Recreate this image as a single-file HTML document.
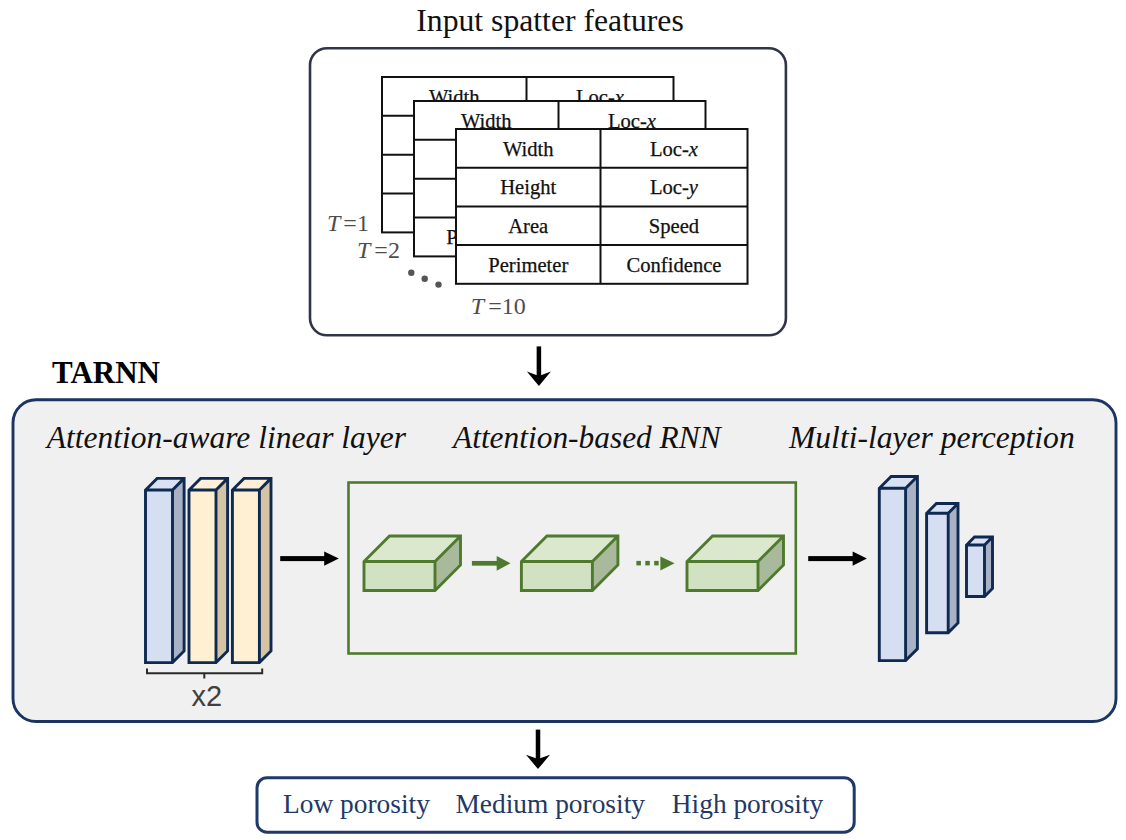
<!DOCTYPE html>
<html><head><meta charset="utf-8"><style>
html,body{margin:0;padding:0;background:#fff;}
body{width:1126px;height:840px;overflow:hidden;}
svg{display:block;}
text{font-family:"Liberation Serif",serif;}
.title{font-size:31.7px;fill:#111;}
.cell{font-size:20.6px;fill:#111;stroke:#111;stroke-width:0.25px;}
.tl{font-size:24px;fill:#4d4d4d;}
.bold{font-size:31px;font-weight:bold;fill:#000;}
.it{font-size:31.4px;font-style:italic;fill:#111;}
.x2{font-family:"Liberation Sans",sans-serif;font-size:29px;fill:#404040;}
.bt{font-size:27.4px;fill:#223865;}
</style></head><body>
<svg width="1126" height="840" viewBox="0 0 1126 840">
<rect x='310' y='48.2' width='475.9' height='287.1' rx='17' fill='#fff' stroke='#303548' stroke-width='2.6'/><text x='550' y='31.2' text-anchor='middle' class='title'>Input spatter features</text><rect x='382' y='77' width='291.5' height='155.4' fill='#fff' stroke='#111' stroke-width='2'/><line x1='382' y1='115.85' x2='673.5' y2='115.85' stroke='#111' stroke-width='2'/><line x1='382' y1='154.70' x2='673.5' y2='154.70' stroke='#111' stroke-width='2'/><line x1='382' y1='193.55' x2='673.5' y2='193.55' stroke='#111' stroke-width='2'/><line x1='526.5' y1='77' x2='526.5' y2='232.4' stroke='#111' stroke-width='2'/><text x='454.25' y='103.50' text-anchor='middle' class='cell'>Width</text><text x='600.00' y='103.50' text-anchor='middle' class='cell'>Loc-<tspan font-style='italic'>x</tspan></text><text x='454.25' y='142.35' text-anchor='middle' class='cell'>Height</text><text x='600.00' y='142.35' text-anchor='middle' class='cell'>Loc-<tspan font-style='italic'>y</tspan></text><text x='454.25' y='181.20' text-anchor='middle' class='cell'>Area</text><text x='600.00' y='181.20' text-anchor='middle' class='cell'>Speed</text><text x='454.25' y='220.05' text-anchor='middle' class='cell'>Perimeter</text><text x='600.00' y='220.05' text-anchor='middle' class='cell'>Confidence</text><rect x='414' y='101' width='291.5' height='155.4' fill='#fff' stroke='#111' stroke-width='2'/><line x1='414' y1='139.85' x2='705.5' y2='139.85' stroke='#111' stroke-width='2'/><line x1='414' y1='178.70' x2='705.5' y2='178.70' stroke='#111' stroke-width='2'/><line x1='414' y1='217.55' x2='705.5' y2='217.55' stroke='#111' stroke-width='2'/><line x1='558.5' y1='101' x2='558.5' y2='256.4' stroke='#111' stroke-width='2'/><text x='486.25' y='127.50' text-anchor='middle' class='cell'>Width</text><text x='632.00' y='127.50' text-anchor='middle' class='cell'>Loc-<tspan font-style='italic'>x</tspan></text><text x='486.25' y='166.35' text-anchor='middle' class='cell'>Height</text><text x='632.00' y='166.35' text-anchor='middle' class='cell'>Loc-<tspan font-style='italic'>y</tspan></text><text x='486.25' y='205.20' text-anchor='middle' class='cell'>Area</text><text x='632.00' y='205.20' text-anchor='middle' class='cell'>Speed</text><text x='486.25' y='244.05' text-anchor='middle' class='cell'>Perimeter</text><text x='632.00' y='244.05' text-anchor='middle' class='cell'>Confidence</text><rect x='456' y='129' width='291.5' height='154.8' fill='#fff' stroke='#111' stroke-width='2'/><line x1='456' y1='167.70' x2='747.5' y2='167.70' stroke='#111' stroke-width='2'/><line x1='456' y1='206.40' x2='747.5' y2='206.40' stroke='#111' stroke-width='2'/><line x1='456' y1='245.10' x2='747.5' y2='245.10' stroke='#111' stroke-width='2'/><line x1='600.5' y1='129' x2='600.5' y2='283.8' stroke='#111' stroke-width='2'/><text x='528.25' y='155.50' text-anchor='middle' class='cell'>Width</text><text x='674.00' y='155.50' text-anchor='middle' class='cell'>Loc-<tspan font-style='italic'>x</tspan></text><text x='528.25' y='194.20' text-anchor='middle' class='cell'>Height</text><text x='674.00' y='194.20' text-anchor='middle' class='cell'>Loc-<tspan font-style='italic'>y</tspan></text><text x='528.25' y='232.90' text-anchor='middle' class='cell'>Area</text><text x='674.00' y='232.90' text-anchor='middle' class='cell'>Speed</text><text x='528.25' y='271.60' text-anchor='middle' class='cell'>Perimeter</text><text x='674.00' y='271.60' text-anchor='middle' class='cell'>Confidence</text><text x='327' y='230.7' class='tl'><tspan font-style='italic'>T</tspan><tspan dx='3'>=1</tspan></text><text x='357' y='258' class='tl'><tspan font-style='italic'>T</tspan><tspan dx='4'>=2</tspan></text><text x='470.8' y='313.5' class='tl'><tspan font-style='italic'>T</tspan><tspan dx='4'>=10</tspan></text><circle cx='411.3' cy='272.8' r='3.2' fill='#555'/><circle cx='424.7' cy='278.8' r='3.2' fill='#555'/><circle cx='438.5' cy='284.6' r='3.2' fill='#555'/><rect x='536.65' y='346.4' width='4.5' height='29.600000000000023' fill='#000'/><polygon points='526.9,371.5 538.9,376 550.9,371.5 538.9,386' fill='#000'/><text x='52' y='382.9' class='bold'>TARNN</text><rect x='13' y='399.8' width='1103' height='321.7' rx='23' fill='#f0f0f0' stroke='#1b3460' stroke-width='2.9'/><text x='46.8' y='447.7' class='it' style='font-size:31.5px'>Attention-aware linear layer</text><text x='453' y='447.7' class='it'>Attention-based RNN</text><text x='789' y='447.7' class='it' style='font-size:31.6px'>Multi-layer perception</text><polygon points='145.5,490 157.1,478.4 184.1,478.4 172.5,490' fill='#d9e1f3'/><polygon points='172.5,490 184.1,478.4 184.1,651.0 172.5,662.6' fill='#a9b1c4'/><rect x='145.5' y='490' width='27' height='172.6' fill='#d6dff2'/><path d='M145.5,662.6 L145.5,490 L157.1,478.4 L184.1,478.4 L184.1,651.0 L172.5,662.6 Z M145.5,490 L172.5,490 L184.1,478.4 M172.5,490 L172.5,662.6' fill='none' stroke='#0e2a50' stroke-width='2.9' stroke-linejoin='miter' stroke-miterlimit='3'/><polygon points='189,490 200.6,478.4 227.6,478.4 216,490' fill='#ffefd6'/><polygon points='216,490 227.6,478.4 227.6,651.0 216,662.6' fill='#d5c3a4'/><rect x='189' y='490' width='27' height='172.6' fill='#fff0d3'/><path d='M189,662.6 L189,490 L200.6,478.4 L227.6,478.4 L227.6,651.0 L216,662.6 Z M189,490 L216,490 L227.6,478.4 M216,490 L216,662.6' fill='none' stroke='#0e2a50' stroke-width='2.9' stroke-linejoin='miter' stroke-miterlimit='3'/><polygon points='232.4,490 244.0,478.4 271.0,478.4 259.4,490' fill='#ffefd6'/><polygon points='259.4,490 271.0,478.4 271.0,651.0 259.4,662.6' fill='#d5c3a4'/><rect x='232.4' y='490' width='27' height='172.6' fill='#fff0d3'/><path d='M232.4,662.6 L232.4,490 L244.0,478.4 L271.0,478.4 L271.0,651.0 L259.4,662.6 Z M232.4,490 L259.4,490 L271.0,478.4 M259.4,490 L259.4,662.6' fill='none' stroke='#0e2a50' stroke-width='2.9' stroke-linejoin='miter' stroke-miterlimit='3'/><path d='M147,668.6 V673.3 H262.2 V668.6 M204.3,673.3 V678.6' fill='none' stroke='#2a2a2a' stroke-width='2'/><text x='191.5' y='706.2' class='x2'>x2</text><rect x='280.2' y='556.1' width='45.0' height='5' fill='#000'/><polygon points='324.2,551.4 338.8,558.6 324.2,565.8000000000001' fill='#000'/><rect x='808.2' y='556.1' width='45.39999999999998' height='5' fill='#000'/><polygon points='852.6,551.4 866.9,558.6 852.6,565.8000000000001' fill='#000'/><rect x='348.5' y='482.5' width='447.3' height='171' fill='none' stroke='#4e7a2e' stroke-width='2.6'/><polygon points='364,561.5 389.5,536.0 460.5,536.0 435,561.5' fill='#dbe8cd'/><polygon points='435,561.5 460.5,536.0 460.5,565.0 435,590.5' fill='#a9b99b'/><rect x='364' y='561.5' width='71' height='29' fill='#d1e2c2'/><path d='M364,590.5 L364,561.5 L389.5,536.0 L460.5,536.0 L460.5,565.0 L435,590.5 Z M364,561.5 L435,561.5 L460.5,536.0 M435,561.5 L435,590.5' fill='none' stroke='#4e7a2e' stroke-width='2.9' stroke-linejoin='miter' stroke-miterlimit='3'/><polygon points='521.4,561.5 546.9,536.0 617.9,536.0 592.4,561.5' fill='#dbe8cd'/><polygon points='592.4,561.5 617.9,536.0 617.9,565.0 592.4,590.5' fill='#a9b99b'/><rect x='521.4' y='561.5' width='71' height='29' fill='#d1e2c2'/><path d='M521.4,590.5 L521.4,561.5 L546.9,536.0 L617.9,536.0 L617.9,565.0 L592.4,590.5 Z M521.4,561.5 L592.4,561.5 L617.9,536.0 M592.4,561.5 L592.4,590.5' fill='none' stroke='#4e7a2e' stroke-width='2.9' stroke-linejoin='miter' stroke-miterlimit='3'/><polygon points='687,561.5 712.5,536.0 783.5,536.0 758,561.5' fill='#dbe8cd'/><polygon points='758,561.5 783.5,536.0 783.5,565.0 758,590.5' fill='#a9b99b'/><rect x='687' y='561.5' width='71' height='29' fill='#d1e2c2'/><path d='M687,590.5 L687,561.5 L712.5,536.0 L783.5,536.0 L783.5,565.0 L758,590.5 Z M687,561.5 L758,561.5 L783.5,536.0 M758,561.5 L758,590.5' fill='none' stroke='#4e7a2e' stroke-width='2.9' stroke-linejoin='miter' stroke-miterlimit='3'/><rect x='471.9' y='560.9499999999999' width='25.80000000000001' height='4.7' fill='#4e7a2e'/><polygon points='496.7,555.9 510.5,563.3 496.7,570.6999999999999' fill='#4e7a2e'/><rect x='636.4' y='560.9' width='4.5' height='4.5' fill='#4e7a2e'/><rect x='645.3' y='560.9' width='4.5' height='4.5' fill='#4e7a2e'/><rect x='654.2' y='560.9' width='4.5' height='4.5' fill='#4e7a2e'/><polygon points='660.4,556.4 674.6,563.3 660.4,570.6' fill='#4e7a2e'/><polygon points='879.3,488.3 891.0999999999999,476.5 917.3999999999999,476.5 905.5999999999999,488.3' fill='#d9e1f3'/><polygon points='905.5999999999999,488.3 917.3999999999999,476.5 917.3999999999999,648.8000000000001 905.5999999999999,660.6' fill='#a9b1c4'/><rect x='879.3' y='488.3' width='26.3' height='172.3' fill='#d6dff2'/><path d='M879.3,660.6 L879.3,488.3 L891.0999999999999,476.5 L917.3999999999999,476.5 L917.3999999999999,648.8000000000001 L905.5999999999999,660.6 Z M879.3,488.3 L905.5999999999999,488.3 L917.3999999999999,476.5 M905.5999999999999,488.3 L905.5999999999999,660.6' fill='none' stroke='#0e2a50' stroke-width='2.9' stroke-linejoin='miter' stroke-miterlimit='3'/><polygon points='926.6,513.3 936.4,503.49999999999994 958.0,503.49999999999994 948.2,513.3' fill='#d9e1f3'/><polygon points='948.2,513.3 958.0,503.49999999999994 958.0,623.0 948.2,632.8' fill='#a9b1c4'/><rect x='926.6' y='513.3' width='21.6' height='119.5' fill='#d6dff2'/><path d='M926.6,632.8 L926.6,513.3 L936.4,503.49999999999994 L958.0,503.49999999999994 L958.0,623.0 L948.2,632.8 Z M926.6,513.3 L948.2,513.3 L958.0,503.49999999999994 M948.2,513.3 L948.2,632.8' fill='none' stroke='#0e2a50' stroke-width='2.9' stroke-linejoin='miter' stroke-miterlimit='3'/><polygon points='966.5,545 974.5,537 992.5,537 984.5,545' fill='#d9e1f3'/><polygon points='984.5,545 992.5,537 992.5,588.5 984.5,596.5' fill='#a9b1c4'/><rect x='966.5' y='545' width='18' height='51.5' fill='#d6dff2'/><path d='M966.5,596.5 L966.5,545 L974.5,537 L992.5,537 L992.5,588.5 L984.5,596.5 Z M966.5,545 L984.5,545 L992.5,537 M984.5,545 L984.5,596.5' fill='none' stroke='#0e2a50' stroke-width='2.9' stroke-linejoin='miter' stroke-miterlimit='3'/><rect x='535.75' y='729.6' width='4.5' height='29.399999999999977' fill='#000'/><polygon points='526,754.8 538,759 550,754.8 538,769' fill='#000'/><rect x='257' y='777.7' width='597.2' height='54.5' rx='10' fill='#fff' stroke='#1f3a68' stroke-width='3'/><text x='283' y='813.3' class='bt'>Low porosity</text><text x='455.5' y='813.3' class='bt'>Medium porosity</text><text x='671.8' y='813.3' class='bt'>High porosity</text>
</svg>
</body></html>
